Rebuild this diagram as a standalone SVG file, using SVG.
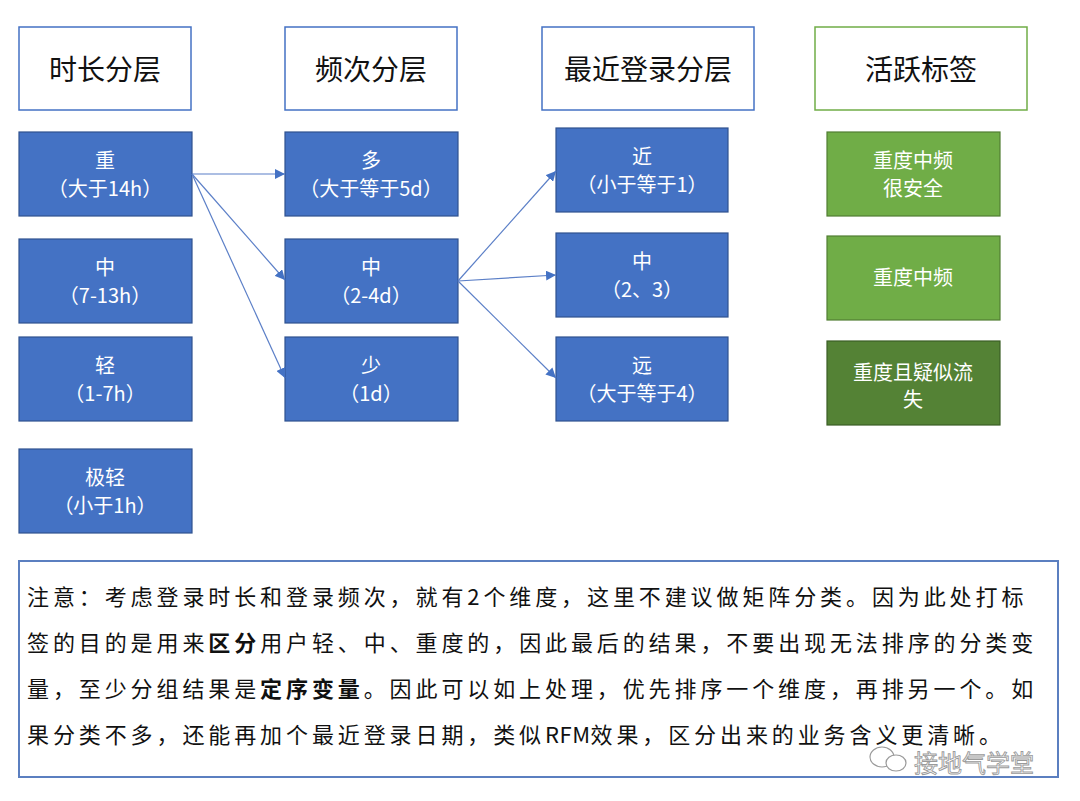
<svg xmlns="http://www.w3.org/2000/svg" width="1080" height="801" viewBox="0 0 1080 801">
<style>
text{font-family:"Noto Sans CJK SC","Liberation Sans",sans-serif}
.hdr{fill:#fff;stroke:#4472C4;stroke-width:1.5}
.hdrg{fill:#fff;stroke:#70AD47;stroke-width:1.5}
.ht{font-size:28px;fill:#111;text-anchor:middle}
.bx{fill:#4472C4;stroke:#2F528F;stroke-width:1.2}
.gb{fill:#70AD47;stroke:#507E32;stroke-width:1.2}
.dg{fill:#548235;stroke:#3B5E25;stroke-width:1.2}
.bt{font-size:20px;fill:#fff;text-anchor:middle}
.cn{stroke:#5B7FC7;stroke-width:1.2;fill:none;marker-end:url(#ah)}
.nt{font-size:22px;fill:#111;letter-spacing:3.9px}
.b{font-weight:bold}
.lat{letter-spacing:0.5px}
.wm{font-size:24px;fill:#fff;stroke:#9a9a9a;stroke-width:0.9}
</style>
<defs>
<marker id="ah" viewBox="0 0 10 10" refX="10" refY="5" markerWidth="10" markerHeight="10" markerUnits="userSpaceOnUse" orient="auto">
<path d="M0,0 L10,5 L0,10 Z" fill="#4472C4"/>
</marker>
</defs>
<rect width="1080" height="801" fill="#fff"/>

<g id="h1"><rect class="hdr" x="19" y="27" width="172" height="83"/><text class="ht" x="105" y="80">时长分层</text></g>
<g id="h2"><rect class="hdr" x="285" y="27" width="172" height="83"/><text class="ht" x="371" y="80">频次分层</text></g>
<g id="h3"><rect class="hdr" x="542" y="27" width="212" height="83"/><text class="ht" x="648" y="80">最近登录分层</text></g>
<g id="h4"><rect class="hdrg" x="815" y="27" width="212" height="83"/><text class="ht" x="921" y="80">活跃标签</text></g>

<g id="d1"><rect class="bx" x="19" y="132" width="173" height="84"/><text class="bt" x="105" y="168">重</text><text class="bt" x="105" y="196">（大于14h）</text></g>
<g id="d2"><rect class="bx" x="19" y="239" width="173" height="84"/><text class="bt" x="105" y="275">中</text><text class="bt" x="105" y="303">（7-13h）</text></g>
<g id="d3"><rect class="bx" x="19" y="337" width="173" height="84"/><text class="bt" x="105" y="373">轻</text><text class="bt" x="105" y="401">（1-7h）</text></g>
<g id="d4"><rect class="bx" x="19" y="449" width="173" height="84"/><text class="bt" x="105" y="485">极轻</text><text class="bt" x="105" y="513">（小于1h）</text></g>

<g id="f1"><rect class="bx" x="285" y="132" width="173" height="84"/><text class="bt" x="371" y="168">多</text><text class="bt" x="371" y="196">（大于等于5d）</text></g>
<g id="f2"><rect class="bx" x="285" y="239" width="173" height="84"/><text class="bt" x="371" y="275">中</text><text class="bt" x="371" y="303">（2-4d）</text></g>
<g id="f3"><rect class="bx" x="285" y="337" width="173" height="84"/><text class="bt" x="371" y="373">少</text><text class="bt" x="371" y="401">（1d）</text></g>

<g id="r1"><rect class="bx" x="556" y="128" width="172" height="84"/><text class="bt" x="642" y="164">近</text><text class="bt" x="642" y="192">（小于等于1）</text></g>
<g id="r2"><rect class="bx" x="556" y="233" width="172" height="84"/><text class="bt" x="642" y="269">中</text><text class="bt" x="642" y="297">（2、3）</text></g>
<g id="r3"><rect class="bx" x="556" y="337" width="172" height="84"/><text class="bt" x="642" y="373">远</text><text class="bt" x="642" y="401">（大于等于4）</text></g>

<g id="t1"><rect class="gb" x="827" y="132" width="173" height="84"/><text class="bt" x="913" y="168">重度中频</text><text class="bt" x="913" y="196">很安全</text></g>
<g id="t2"><rect class="gb" x="827" y="236" width="173" height="84"/><text class="bt" x="913" y="285">重度中频</text></g>
<g id="t3"><rect class="dg" x="827" y="341" width="173" height="84"/><text class="bt" x="913" y="380">重度且疑似流</text><text class="bt" x="913" y="407">失</text></g>

<g id="connectors">
<line class="cn" x1="192" y1="174" x2="285" y2="174"/>
<line class="cn" x1="192" y1="174" x2="285" y2="280"/>
<line class="cn" x1="192" y1="174" x2="285" y2="378"/>
<line class="cn" x1="458" y1="281" x2="556" y2="171"/>
<line class="cn" x1="458" y1="281" x2="556" y2="275"/>
<line class="cn" x1="458" y1="281" x2="556" y2="378"/>
</g>

<g id="note">
<rect x="19" y="561" width="1039" height="216" fill="#fff" stroke="#5B7FC0" stroke-width="2"/>
<text class="nt" x="27" y="605">注意：考虑登录时长和登录频次，就有2个维度，这里不建议做矩阵分类。因为此处打标</text>
<text class="nt" x="27" y="651">签的目的是用来<tspan class="b">区分</tspan>用户轻、中、重度的，因此最后的结果，不要出现无法排序的分类变</text>
<text class="nt" x="27" y="697">量，至少分组结果是<tspan class="b">定序变量</tspan>。因此可以如上处理，优先排序一个维度，再排另一个。如</text>
<text class="nt" x="27" y="743">果分类不多，还能再加个最近登录日期，类似<tspan class="lat">RFM</tspan>效果，区分出来的业务含义更清晰。</text>
</g>

<g id="watermark">
<ellipse cx="882" cy="757" rx="12" ry="10" fill="#fff" stroke="#9a9a9a" stroke-width="1.2"/>
<ellipse cx="896" cy="763" rx="10" ry="8" fill="#fff" stroke="#9a9a9a" stroke-width="1.2"/>
<text class="wm" x="914" y="772">接地气学堂</text>
</g>
</svg>
